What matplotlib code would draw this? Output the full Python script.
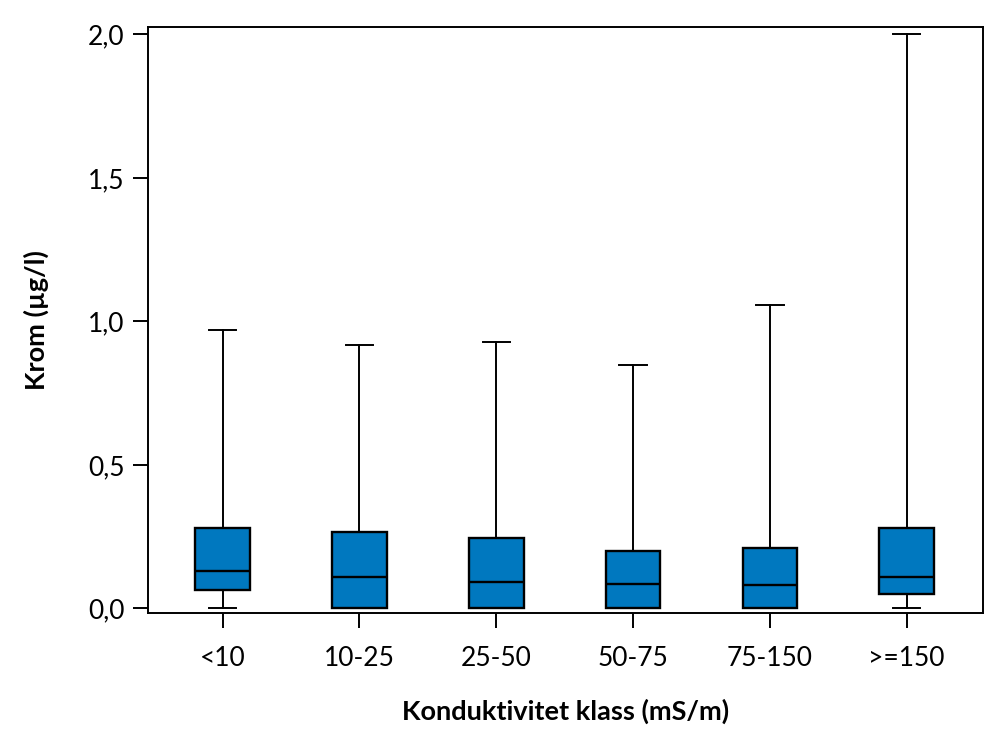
import matplotlib.pyplot as plt
from matplotlib.ticker import FuncFormatter

# data
classes = ['<10', '10-25', '25-50', '50-75', '75-150', '>=150']
whislo = [0.0, 0.0, 0.0, 0.0, 0.0, 0.0]
q1 = [0.065, 0.0, 0.0, 0.0, 0.0, 0.049]
med = [0.129, 0.109, 0.093, 0.086, 0.080, 0.108]
q3 = [0.279, 0.267, 0.244, 0.199, 0.209, 0.279]
whishi = [0.97, 0.918, 0.929, 0.849, 1.058, 2.0]

plt.rcParams['font.family'] = ['Lato', 'DejaVu Sans']

stats = []
for i in range(len(classes)):
    stats.append({'whislo': whislo[i], 'q1': q1[i], 'med': med[i],
                  'q3': q3[i], 'whishi': whishi[i], 'fliers': []})

fig = plt.figure(figsize=(10, 7.5), dpi=100)
ax = fig.add_axes([0.148, 0.183, 0.835, 0.781])

ax.bxp(stats, positions=range(len(classes)), widths=0.4, capwidths=0.2,
       patch_artist=True, showfliers=False,
       boxprops=dict(facecolor='#0078BF', edgecolor='black', linewidth=1.7),
       medianprops=dict(color='black', linewidth=1.7),
       whiskerprops=dict(color='black', linewidth=1.4),
       capprops=dict(color='black', linewidth=1.4))

ax.set_xlim(-0.546, 5.558)
ax.set_ylim(-0.015, 2.026)
ax.set_yticks([0, 0.5, 1.0, 1.5, 2.0])
ax.yaxis.set_major_formatter(FuncFormatter(lambda v, p: f'{v:.1f}'.replace('.', ',')))
ax.set_xticks(range(len(classes)))
ax.set_xticklabels(classes)
ax.tick_params(axis='both', length=11, width=1.4, labelsize=19, pad=6)
ax.tick_params(axis='x', pad=13)
for s in ax.spines.values():
    s.set_linewidth(1.4)

ax.set_xlabel('Konduktivitet klass (mS/m)', fontsize=19.5, fontweight='bold', labelpad=20)
ax.set_ylabel('Krom (µg/l)', fontsize=19.5, fontweight='bold', labelpad=28)

fig.savefig('out.png', dpi=100)
